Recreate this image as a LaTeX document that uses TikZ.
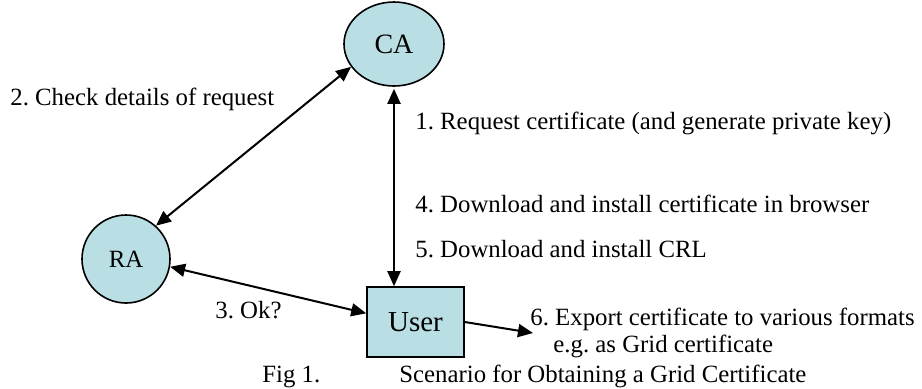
\documentclass[tikz,border=0pt]{standalone}
\usepackage{fontspec}
\setmainfont{Liberation Serif}
\frenchspacing
\usetikzlibrary{arrows.meta,shapes.geometric}
\definecolor{boxfill}{RGB}{185,223,228}
\begin{document}
\begin{tikzpicture}[x=0.5pt,y=-0.5pt,
  ent/.style={draw=black,line width=0.8pt,fill=boxfill,inner sep=0pt},
  lbl/.style={anchor=base west,inner sep=0pt,font=\fontsize{12.4}{14}\selectfont\frenchspacing},
  conn/.style={line width=1pt,{Triangle[length=7.5pt,width=6.5pt]}-{Triangle[length=7.5pt,width=6.5pt]}},
  oneway/.style={line width=1pt,-{Triangle[length=7.5pt,width=6.5pt]}}]
\useasboundingbox (0,0) rectangle (922,388);
% entities
\node[ent,ellipse,minimum width=50pt,minimum height=42pt,font=\fontsize{14}{16}\selectfont] (ca) at (394,44) {CA};
\node[ent,ellipse,minimum width=44pt,minimum height=44pt,font=\fontsize{12.4}{14}\selectfont] (ra) at (126,259) {RA};
\node[ent,rectangle,minimum width=48.5pt,minimum height=35pt,font=\fontsize{14.5}{16}\selectfont] (user) at (415.5,322) {User};
\coordinate (exp) at (533,333);
% connectors
\draw[conn] (ra.48) -- (ca.208);
\draw[conn,shorten <=1pt] (ca.south) -- (ca.south |- user.north);
\draw[conn] (ra.-10) -- (user.170);
\draw[oneway] (user.east) -- (exp);
% labels
\node[lbl] (l2) at (10,105) {2. Check details of request};
\node[lbl] (l1) at (415,129) {1. Request certificate (and generate private key)};
\node[lbl] (l4) at (415,212) {4. Download and install certificate in browser};
\node[lbl] (l5) at (415,257) {5. Download and install CRL};
\node[lbl] (l3) at (215,318) {3. Ok?};
\node[lbl] (l6) at (530,325) {6. Export certificate to various formats};
\node[lbl] (l6b) at (553,352) {e.g. as Grid certificate};
\node[lbl] (fig) at (262,382) {Fig 1.};
\node[lbl] (cap) at (399,382) {Scenario for Obtaining a Grid Certificate};
\end{tikzpicture}
\end{document}
